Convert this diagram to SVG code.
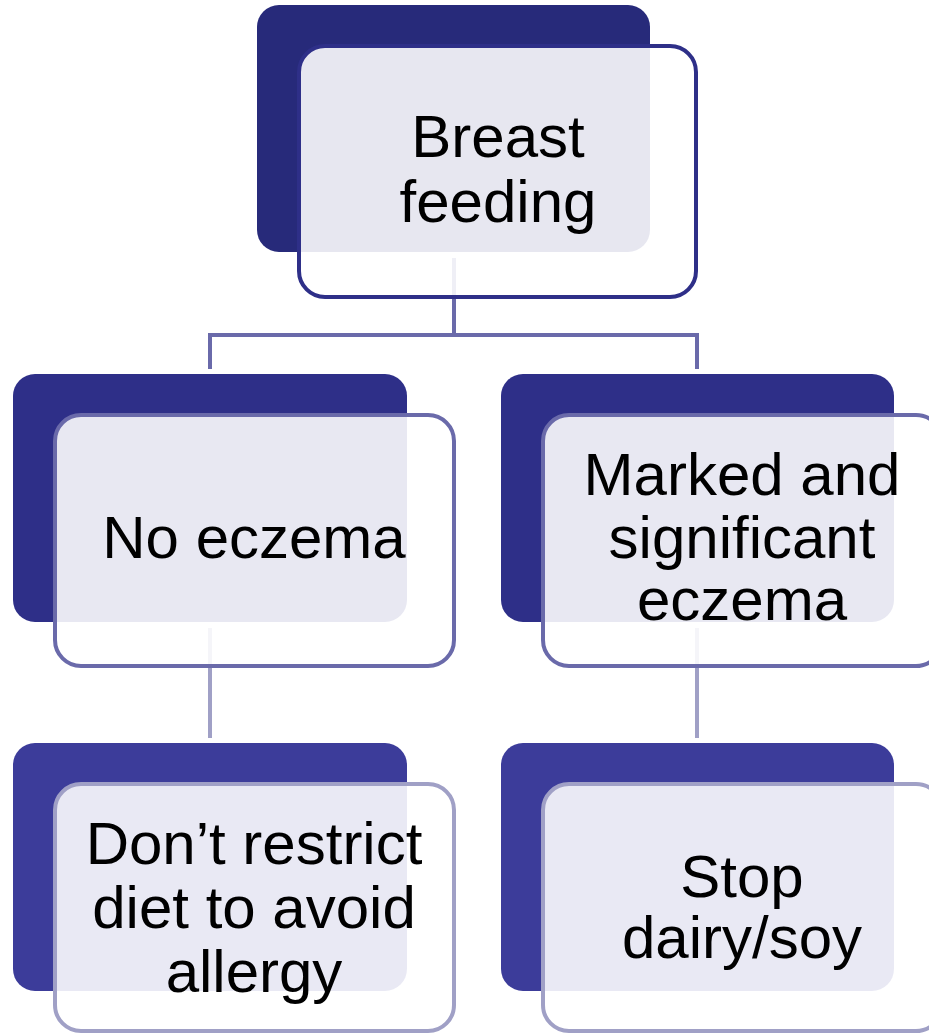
<svg xmlns="http://www.w3.org/2000/svg" width="929" height="1034" viewBox="0 0 929 1034">
<style>
.bg{stroke:none}
.fr{fill:#ffffff;fill-opacity:0.89;stroke-width:4}
.t{font-family:"Liberation Sans",Arial,sans-serif;font-size:60px;fill:#000;text-anchor:middle}
.c1{fill:none;stroke:#6a6aaa;stroke-width:4}
.c2{fill:none;stroke:#a0a0c6;stroke-width:4}
</style>
<rect width="929" height="1034" fill="#ffffff"/>
<g id="n1-back"><rect class="bg" x="257" y="5" width="393" height="247" rx="22" fill="#272a7a"/></g>
<g id="n2-back"><rect class="bg" x="13" y="374" width="394" height="248" rx="22" fill="#2e2f88"/></g>
<g id="n3-back"><rect class="bg" x="501" y="374" width="393" height="248" rx="22" fill="#2e2f88"/></g>
<g id="n4-back"><rect class="bg" x="13" y="743" width="394" height="248" rx="22" fill="#3c3c9a"/></g>
<g id="n5-back"><rect class="bg" x="501" y="743" width="393" height="248" rx="22" fill="#3c3c9a"/></g>
<g id="connectors">
<path class="c1" d="M454 258 V335 M210 369 V335 H697 V369"/>
<path class="c2" d="M210 628 V738"/>
<path class="c2" d="M697 628 V738"/>
</g>
<g id="n1">
<rect class="fr" x="299" y="46" width="397" height="251" rx="26" stroke="#2e2f88"/>
<text class="t" x="498" y="157">Breast</text>
<text class="t" x="498" y="222">feeding</text>
</g>
<g id="n2">
<rect class="fr" x="55" y="415" width="399" height="251" rx="26" stroke="#6a6aaa"/>
<text class="t" x="254" y="558">No eczema</text>
</g>
<g id="n3">
<rect class="fr" x="543" y="415" width="399" height="251" rx="26" stroke="#6a6aaa"/>
<text class="t" x="742" y="495">Marked and</text>
<text class="t" x="742" y="558">significant</text>
<text class="t" x="742" y="620">eczema</text>
</g>
<g id="n4">
<rect class="fr" x="55" y="784" width="399" height="247" rx="26" stroke="#a0a0c6"/>
<text class="t" x="254" y="864">Don’t restrict</text>
<text class="t" x="254" y="928">diet to avoid</text>
<text class="t" x="254" y="992">allergy</text>
</g>
<g id="n5">
<rect class="fr" x="543" y="784" width="399" height="247" rx="26" stroke="#a0a0c6"/>
<text class="t" x="742" y="897">Stop</text>
<text class="t" x="742" y="958">dairy/soy</text>
</g>
</svg>
